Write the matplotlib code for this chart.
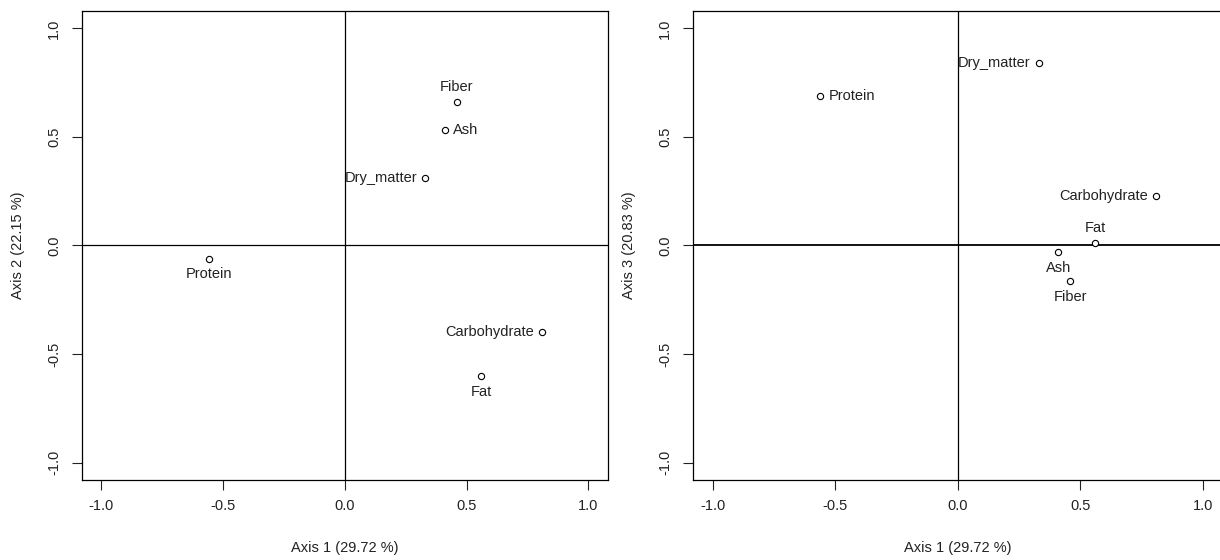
import matplotlib
matplotlib.use("Agg")
import matplotlib.pyplot as plt

plt.rcParams["font.family"] = ["Liberation Sans", "DejaVu Sans"]
plt.rcParams["font.size"] = 10.5

variables = ["Dry_matter", "Protein", "Fat", "Carbohydrate", "Fiber", "Ash"]
axis1 = [0.33, -0.56, 0.56, 0.81, 0.46, 0.41]
axis2 = [0.31, -0.06, -0.60, -0.40, 0.66, 0.53]
axis3 = [0.84, 0.69, 0.01, 0.23, -0.165, -0.03]

# R text() positions: 1 below, 2 left, 3 above, 4 right
pos_12 = [2, 1, 1, 2, 3, 4]
pos_13 = [2, 4, 3, 2, 1, 1]

ticks = [-1.0, -0.5, 0.0, 0.5, 1.0]
tick_labels = ["-1.0", "-0.5", "0.0", "0.5", "1.0"]
xlab = "Axis 1 (29.72 %)"
ylab_12 = "Axis 2 (22.15 %)"
ylab_13 = "Axis 3 (20.83 %)"

OFFS = {1: (0, -11.5, "center", "center"), 2: (-6, 0, "right", "center"),
        3: (0, 11, "center", "center"), 4: (6, 0, "left", "center")}


def panel(ax, xs, ys, pos, ylabel, hlw):
    ax.axhline(0, color="black", lw=hlw)
    ax.axvline(0, color="black", lw=0.9)
    ax.plot(xs, ys, "o", ms=4.5, mfc="white", mec="black", mew=0.8)
    for name, x, y, p in zip(variables, xs, ys, pos):
        dx, dy, ha, va = OFFS[p]
        ax.annotate(name, (x, y), xytext=(dx, dy), textcoords="offset points",
                    ha=ha, va=va, fontsize=10.5, color="#222222")
    ax.set_xlim(-1.08, 1.08)
    ax.set_ylim(-1.08, 1.08)
    ax.set_xticks(ticks)
    ax.set_xticklabels(tick_labels)
    ax.set_yticks(ticks)
    ax.set_yticklabels(tick_labels, rotation=90, va="center")
    ax.tick_params(direction="out", length=7, width=0.8, pad=8,
                   colors="#222222", labelsize=10.5)
    ax.tick_params(axis="x", pad=7)
    for s in ax.spines.values():
        s.set_linewidth(0.9)
    ax.set_xlabel(xlab, labelpad=20, color="#222222")
    ax.set_ylabel(ylabel, labelpad=16, color="#222222")


fig = plt.figure(figsize=(12.2, 5.6), dpi=100)
ax1 = fig.add_axes([0.0672, 0.1429, 0.4311, 0.8375])
ax2 = fig.add_axes([0.568, 0.1429, 0.434, 0.8375])
panel(ax1, axis1, axis2, pos_12, ylab_12, 0.9)
panel(ax2, axis1, axis3, pos_13, ylab_13, 1.3)

fig.savefig("out.png", dpi=100)
